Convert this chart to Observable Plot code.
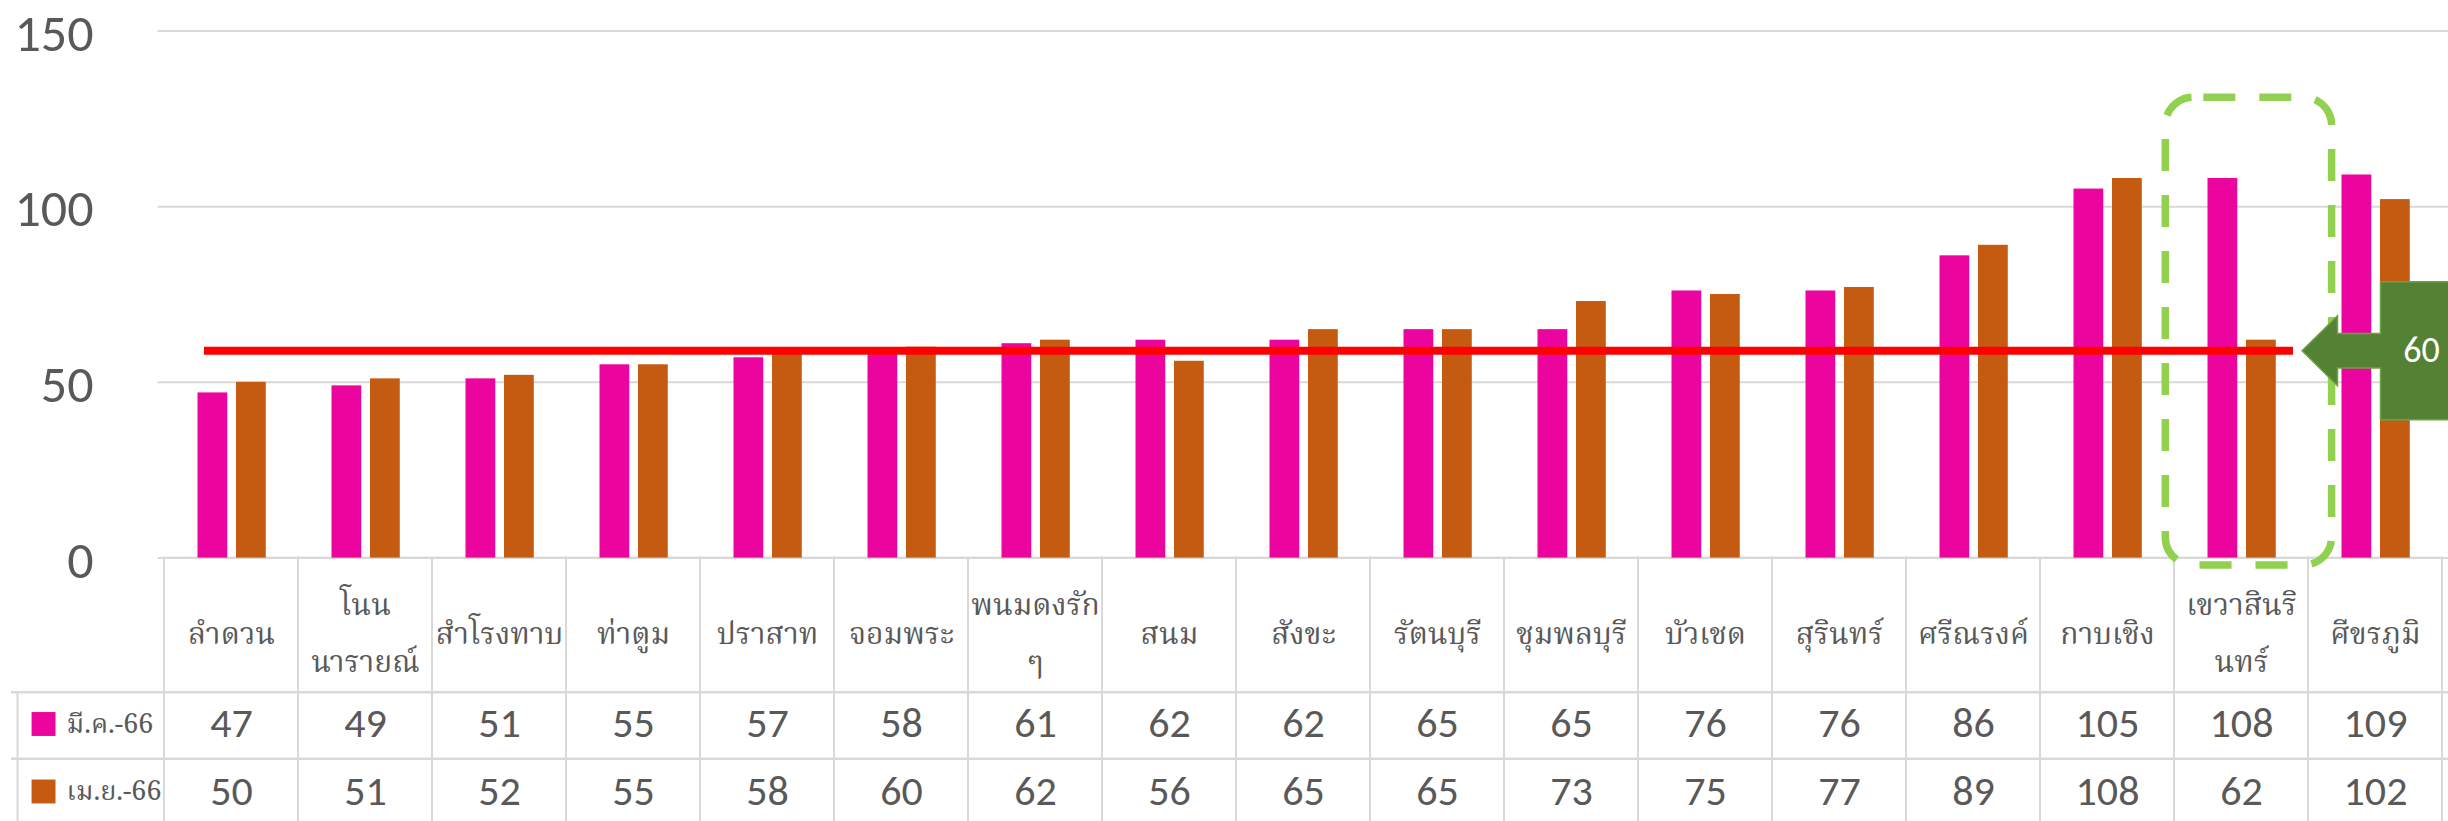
<!DOCTYPE html>
<html><head><meta charset="utf-8">
<script src="https://cdn.jsdelivr.net/npm/d3@7"></script>
<script src="https://cdn.jsdelivr.net/npm/@observablehq/plot@0.6"></script>
<style>
body{margin:0;background:#fff;}
#chart svg{display:block;}
</style>
</head><body><div id="chart"></div>
<script>
// ---------- data ----------
const categories = ["ลำดวน","โนนนารายณ์","สำโรงทาบ","ท่าตูม","ปราสาท","จอมพระ","พนมดงรัก","สนม","สังขะ","รัตนบุรี","ชุมพลบุรี","บัวเชด","สุรินทร์","ศรีณรงค์","กาบเชิง","เขวาสินรินทร์","ศีขรภูมิ"];
const categoryLabels = ["ลำดวน","โนน\nนารายณ์","สำโรงทาบ","ท่าตูม","ปราสาท","จอมพระ","พนมดงรัก\nๆ","สนม","สังขะ","รัตนบุรี","ชุมพลบุรี","บัวเชด","สุรินทร์","ศรีณรงค์","กาบเชิง","เขวาสินริ\nนทร์","ศีขรภูมิ"];
const seriesNames = ["มี.ค.-66","เม.ย.-66"];
const marchValues = [47,49,51,55,57,58,61,62,62,65,65,76,76,86,105,108,109];
const aprilValues = [50,51,52,55,58,60,62,56,65,65,73,75,77,89,108,62,102];
const yTicks = [0,50,100,150];
const thresholdValue = 59;
const thresholdLabel = "60";
const highlightCategory = "เขวาสินรินทร์";

// ---------- styles / layout ----------
const colors = ["#EC049E","#C55A11"];
const gridColor = "#D9D9D9";
const textColor = "#595959";
const numFont = "Carlito, Lato, 'Open Sans', sans-serif";
const thaiFont = "'Noto Serif Thai','Noto Sans Thai Looped','Noto Sans Thai','Tlwg Typo','Garuda','Loma','Norasi',sans-serif";
const W = 2448, H = 821;
const mL = 157.6, mR = 0, mT = 30.4, mB = 263.4;
const bw = (W - mL - mR) / categories.length;
const y0px = H - mB, yTopPx = mT;
const pxToY = px => 150 * (y0px - px) / (y0px - yTopPx);

const rows = categories.map((c, i) => ({category: c, label: categoryLabels[i], march: marchValues[i], april: aprilValues[i]}));
const seriesValues = [marchValues, aprilValues];
const lastCategory = categories[categories.length - 1];

const calloutSymbol = {draw(ctx) {
  ctx.moveTo(-73.4, 0);
  ctx.lineTo(-38, -35); ctx.lineTo(-38, -17.3); ctx.lineTo(5, -17.3);
  ctx.lineTo(5, -69); ctx.lineTo(130, -69); ctx.lineTo(130, 69); ctx.lineTo(5, 69);
  ctx.lineTo(5, 17.3); ctx.lineTo(-38, 17.3); ctx.lineTo(-38, 35);
  ctx.closePath();
}};

const rowCenters = [723.5, 791];
const firstCenterPx = mL + bw / 2;

const plot = Plot.plot({
  width: W, height: H,
  marginLeft: mL, marginRight: mR, marginTop: mT, marginBottom: mB,
  style: {color: textColor, background: "#fff", fontFamily: numFont},
  x: {type: "band", domain: categories, padding: 0, axis: null},
  y: {domain: [0, 150], axis: null},
  marks: [
    Plot.gridY(yTicks, {stroke: gridColor, strokeOpacity: 1, strokeWidth: 2}),
    Plot.axisY(yTicks, {tickSize: 0, tickPadding: 64.6, fontSize: 52, fill: textColor, dy: 3, label: null, fontFamily: numFont}),
    // table cells (columns)
    Plot.barY(rows, {x: "category", y1: pxToY(835), y2: 0, fill: "none", stroke: gridColor, strokeWidth: 2}),
    Plot.ruleY([pxToY(691.7), pxToY(758.3)], {stroke: gridColor, strokeWidth: 2.5, insetLeft: -146.6}),
    Plot.ruleX([categories[0]], {x: d => d, y1: pxToY(691.7), y2: pxToY(835), dx: 11 - firstCenterPx, stroke: gridColor, strokeWidth: 2}),
    // bars
    Plot.barY(rows, {x: "category", y: "march", fill: colors[0], insetLeft: 33.5, insetRight: bw - 64}),
    Plot.barY(rows, {x: "category", y: "april", fill: colors[1], insetLeft: 72, insetRight: bw - 102.5}),
    // threshold line
    Plot.ruleY([thresholdValue], {y: d => d, x1: () => categories[0], x2: () => highlightCategory, stroke: "#FF0000", strokeWidth: 8, insetLeft: 40, insetRight: 15}),
    // highlight box
    Plot.barY([highlightCategory], {x: d => d, y1: -2.1, y2: 131, fill: "none", stroke: "#92D050", strokeWidth: 7.5, strokeDasharray: "32,24", strokeDashoffset: 46, rx: 28, insetLeft: -8.7, insetRight: -23.6}),
    // callout
    Plot.dot([thresholdValue], {x: () => lastCategory, y: d => d, symbol: calloutSymbol, r: 10, fill: "#548235", stroke: "#6FA044", strokeWidth: 1.5}),
    Plot.text([thresholdLabel], {x: () => lastCategory, y: () => thresholdValue, dx: 46, text: d => d, fill: "#fff", fontSize: 36, fontFamily: numFont}),
    // header labels
    Plot.text(rows, {x: "category", y: () => pxToY(625), text: "label", fontSize: 30, lineHeight: 1.88, fill: textColor, fontFamily: thaiFont}),
    // values
    ...seriesValues.map((vals, s) => Plot.text(rows, {x: "category", y: () => pxToY(rowCenters[s]), text: (d, i) => String(vals[i]), fontSize: 42, fill: textColor, fontFamily: numFont})),
    // legend cells
    ...seriesNames.map((name, s) => Plot.dot([name], {x: () => categories[0], y: () => pxToY(rowCenters[s]), dx: 37 - firstCenterPx, symbol: "square", r: 13.5, fill: colors[s], stroke: null})),
    ...seriesNames.map((name, s) => Plot.text([name], {x: () => categories[0], y: () => pxToY(rowCenters[s]), dx: 60 - firstCenterPx, text: d => d, textAnchor: "start", fontSize: 27, fill: textColor, fontFamily: thaiFont}))
  ]
});
document.getElementById("chart").append(plot);
</script>
</body></html>
